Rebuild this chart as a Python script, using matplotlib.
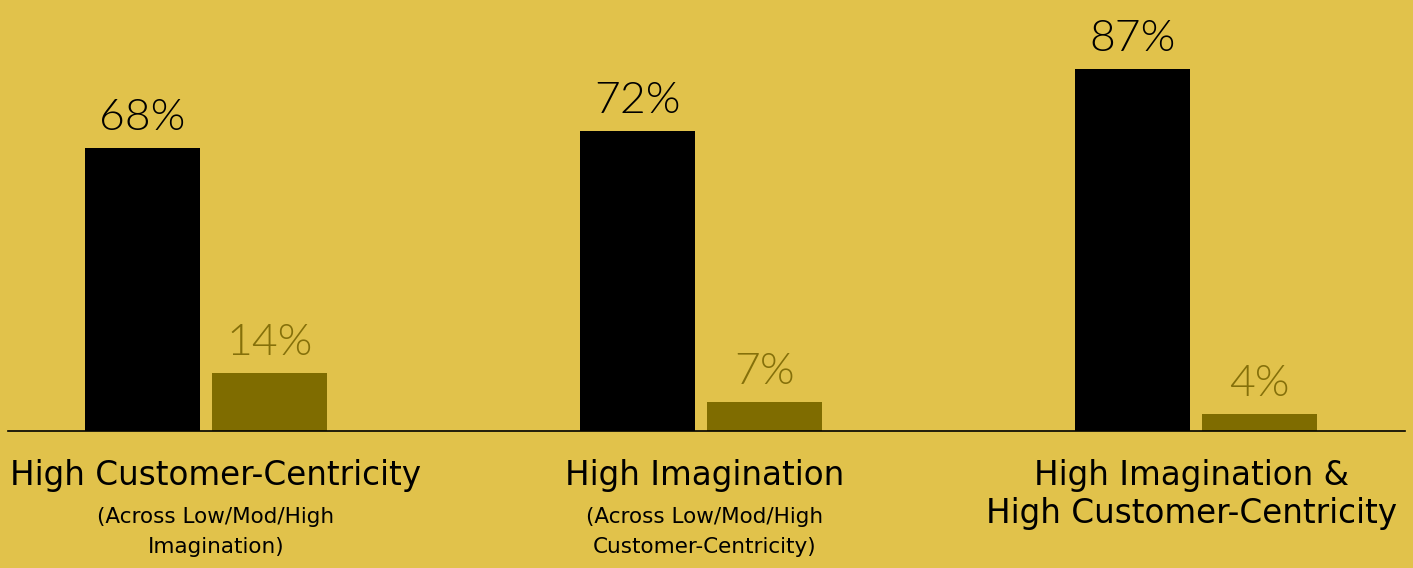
import numpy as np
import matplotlib
matplotlib.use("Agg")
import matplotlib.pyplot as plt

# data
groups = ["High Customer-Centricity", "High Imagination",
          "High Imagination &\nHigh Customer-Centricity"]
subtitles = ["(Across Low/Mod/High\nImagination)",
             "(Across Low/Mod/High\nCustomer-Centricity)",
             ""]
high_vals = [68, 72, 87]
low_vals = [14, 7, 4]

BG = "#E1C24B"
OLIVE = "#7F6C00"
LABEL_FONT = ["DejaVu Sans"]
PCT_FONT = ["Lato", "DejaVu Sans"]

fig = plt.figure(figsize=(14.13, 5.68), dpi=100, facecolor=BG)
ax = fig.add_axes([8 / 1413, 137 / 568, 1397 / 1413, 416 / 568])
ax.set_facecolor(BG)

x = np.arange(len(groups))
w = 115 / 495
off = 63.5 / 495
b1 = ax.bar(x - off, high_vals, width=w, color="black")
b2 = ax.bar(x + off, low_vals, width=w, color=OLIVE)

# value labels above the bars
for bars, vals, col in [(b1, high_vals, "black"), (b2, low_vals, "#85700A")]:
    for r, v in zip(bars, vals):
        ax.annotate(f"{v}%", (r.get_x() + r.get_width() / 2, v),
                    xytext=(0, 13), textcoords="offset points",
                    ha="center", va="baseline", fontsize=32,
                    color=col, family=PCT_FONT, fontweight=300)

ax.set_xlim(-0.4, 2.422)
ax.set_ylim(0, 100)
ax.axhline(0, color="black", lw=1.2, clip_on=False)

# category labels under the baseline (slightly nudged like the original)
px = 4.16  # pixels per percent
nudge = [0.02, 0.008, -0.01]
for i, (g, s) in enumerate(zip(groups, subtitles)):
    xc = i + nudge[i]
    lines = g.split("\n")
    ax.text(xc, -(485 - 431) / px, lines[0], ha="center",
            va="baseline", fontsize=23.5, family=LABEL_FONT, color="black")
    if len(lines) > 1:
        ax.text(xc, -(523 - 431) / px, lines[1], ha="center",
                va="baseline", fontsize=23.5, family=LABEL_FONT, color="black")
    if s:
        l1, l2 = s.split("\n")
        ax.text(xc, -(523 - 431) / px, l1, ha="center", va="baseline",
                fontsize=15.5, family=LABEL_FONT, color="black")
        ax.text(xc, -(553 - 431) / px, l2, ha="center", va="baseline",
                fontsize=15.5, family=LABEL_FONT, color="black")

for sp in ax.spines.values():
    sp.set_visible(False)
ax.set_xticks([])
ax.set_yticks([])

fig.savefig("out.png", dpi=100, facecolor=BG)
